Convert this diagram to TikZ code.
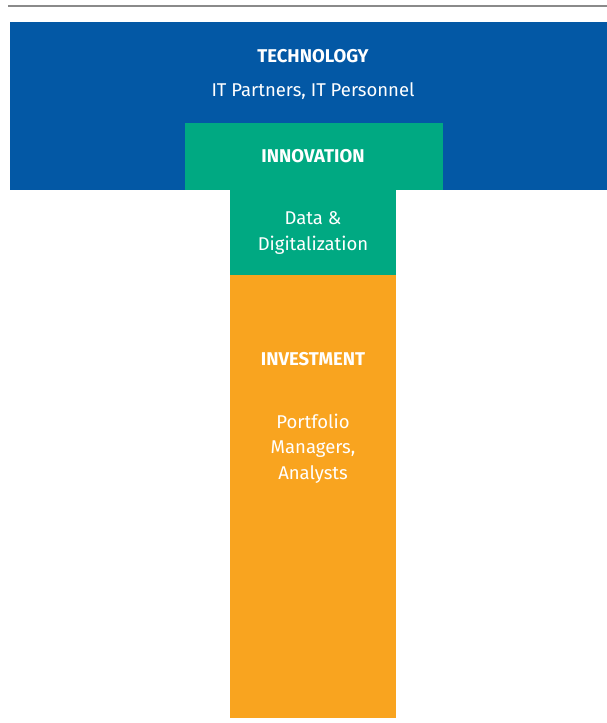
\documentclass[tikz,border=0pt]{standalone}
\usepackage{fontspec}
\setmainfont{Fira Sans}
\definecolor{techblue}{HTML}{0358A5}
\definecolor{innogreen}{HTML}{00A982}
\definecolor{investorange}{HTML}{F9A41F}
\definecolor{rulegray}{HTML}{8A8A8A}
\tikzset{
  head/.style={text=white, font=\fontsize{18.5}{22}\selectfont\bfseries, inner sep=0pt},
  body/.style={text=white, font=\fontsize{18.5}{25.5}\selectfont, align=center, inner sep=0pt},
}
\begin{document}
\begin{tikzpicture}[x=1pt,y=-1pt]
\useasboundingbox (0,0) rectangle (607,723);
\draw[rulegray, line width=2.2pt] (8,6) -- (607,6);
\fill[techblue] (10,22) rectangle (607,190);
\fill[innogreen] (185,123) rectangle (443,190);
\fill[innogreen] (230,190) rectangle (396,275);
\fill[investorange] (230,275) rectangle (396,717.5);
\node[head] (tech) at (313,56.5) {TECHNOLOGY};
\node[body] (techsub) at (313,91) {IT Partners, IT Personnel};
\node[head] (inno) at (313,156) {INNOVATION};
\node[body] (innosub) at (313,233) {Data \&\\Digitalization};
\node[head] (inv) at (313,359) {INVESTMENT};
\node[body] (invsub) at (313,448.5) {Portfolio\\Managers,\\Analysts};
\end{tikzpicture}
\end{document}
